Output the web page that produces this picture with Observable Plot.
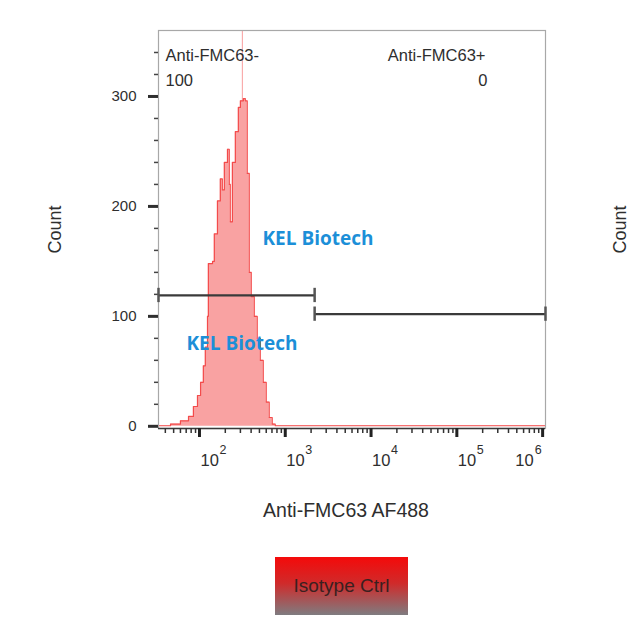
<!DOCTYPE html>
<html>
<head>
<meta charset="utf-8">
<script src="https://cdn.jsdelivr.net/npm/d3@7"></script>
<script src="https://cdn.jsdelivr.net/npm/@observablehq/plot@0.6"></script>
<style>
  html, body { margin: 0; padding: 0; background: #fff; }
  #wrap { position: relative; width: 633px; height: 634px; overflow: hidden; font-family: "Liberation Sans", Arial, sans-serif; }
  #chart { position: absolute; left: 0; top: 0; }
  #legend {
    position: absolute; left: 275px; top: 557px; width: 133px; height: 58px;
    background: linear-gradient(to bottom, #f40a0a 0%, #d02a2a 45%, #7f7c80 100%);
    display: flex; align-items: center; justify-content: center;
    color: #3a2020; font-size: 19px; font-family: "Liberation Sans", Arial, sans-serif;
  }
</style>
</head>
<body>
<div id="wrap">
  <div id="chart"></div>
  <div id="legend">Isotype Ctrl</div>
</div>
<script>
// ---- data ----
const histIntensity = [33.3, 46, 60, 74.5, 85, 94.8, 103, 111, 117, 124,
  127, 142, 149, 162, 175, 185, 195, 212, 223, 229,
  242, 262, 284, 300, 316, 325, 343, 361, 381, 402,
  436, 472, 512, 555, 601, 651, 706, 765, 1.08e6];
const histCount = [0.5, 2, 5, 9, 18, 28, 40, 55, 72, 100,
  148, 150, 175, 205, 225, 215, 240, 252, 220, 186,
  240, 268, 290, 296, 400, 298, 296, 230, 140, 118,
  100, 80, 60, 40, 22, 8, 2, 0.5, 0.5];

const gateNames = ["Anti-FMC63-", "Anti-FMC63+"];
const gatePercents = ["100", "0"];
const gateStart = [33.3, 2200];
const gateEnd = [2200, 1.08e6];
const gateLevel = [119, 102];

const xDomain = [33.3, 1.08e6];
const yDomain = [-2, 360];
const decadeTicks = [100, 1000, 10000, 100000, 1000000];
const decadeExponents = ["2", "3", "4", "5", "6"];
const yMajorTicks = [0, 100, 200, 300];
const yMinorTicks = [20, 40, 60, 80, 120, 140, 160, 180, 220, 240, 260, 280, 320, 340];
const xMinorTicks = [40, 50, 60, 70, 80, 90,
  200, 300, 400, 500, 600, 700, 800, 900,
  2000, 3000, 4000, 5000, 6000, 7000, 8000, 9000,
  20000, 30000, 40000, 50000, 60000, 70000, 80000, 90000,
  200000, 300000, 400000, 500000, 600000, 700000, 800000, 900000];
const xLabel = "Anti-FMC63 AF488";
const yLabel = "Count";
const watermark = "KEL Biotech";

// ---- tables ----
const hist = histIntensity.map((x, i) => ({x, count: histCount[i]}));
const histInFrame = hist.filter(d => d.count < yDomain[1]);
const gates = gateNames.map((name, i) => ({name, pct: gatePercents[i], x1: gateStart[i], x2: gateEnd[i], level: gateLevel[i]}));
const gateCaps = gates.flatMap(g => [{x: g.x1, level: g.level}, {x: g.x2, level: g.level}]);
const decades = decadeTicks.map((v, i) => ({v, exp: decadeExponents[i], last: i === decadeTicks.length - 1}));
const capHalf = 6.5;
const textColor = "#2e2e2e";
const font = "Liberation Sans, Arial, sans-serif";
const wmFont = "Open Sans, Liberation Sans, sans-serif";

const chart = Plot.plot({
  width: 633,
  height: 540,
  marginLeft: 158,
  marginRight: 88,
  marginTop: 30,
  marginBottom: 112,
  style: {fontFamily: font, background: "#fff", overflow: "visible"},
  x: {type: "log", domain: xDomain},
  y: {domain: yDomain},
  marks: [
    Plot.areaY(hist, {x: "x", y: "count", y1: 0, curve: "step-after", fill: "#f9a2a2", clip: true}),
    Plot.lineY(histInFrame, {x: "x", y: "count", curve: "step-after", stroke: "#f23c3c", strokeWidth: 1.2, strokeOpacity: 0.85, clip: true}),
    Plot.frame({stroke: "#a8a8a8", strokeWidth: 1.2}),
    Plot.ruleY([yDomain[0]], {stroke: "#3a3a3a", strokeWidth: 1.5}),
    // y axis
    Plot.axisY({ticks: yMajorTicks, tickSize: 10, tickPadding: 12, strokeWidth: 3, fontSize: 15, color: textColor, label: null}),
    Plot.axisY({ticks: yMinorTicks, tickSize: 4, strokeWidth: 1.5, tickFormat: () => "", color: "#444", label: null}),
    // x axis ticks
    Plot.axisX({ticks: decadeTicks, tickSize: 9, strokeWidth: 3, tickFormat: () => "", color: "#222", label: null}),
    Plot.axisX({ticks: xMinorTicks, tickSize: 5, strokeWidth: 1.5, tickFormat: () => "", color: "#333", label: null}),
    // x tick labels: base and exponent
    Plot.text(decades.filter(d => !d.last), {x: "v", text: () => "10", frameAnchor: "bottom", dy: 37, dx: 1, textAnchor: "start", fontSize: 16.5, fill: textColor}),
    Plot.text(decades.filter(d => !d.last), {x: "v", text: "exp", frameAnchor: "bottom", dy: 25, dx: 20, textAnchor: "start", fontSize: 12.5, fill: textColor}),
    Plot.text(decades.filter(d => d.last), {x: "v", text: () => "10", frameAnchor: "bottom", dy: 37, dx: -9, textAnchor: "end", fontSize: 16.5, fill: textColor}),
    Plot.text(decades.filter(d => d.last), {x: "v", text: "exp", frameAnchor: "bottom", dy: 25, dx: -1, textAnchor: "end", fontSize: 12.5, fill: textColor}),
    // gates
    Plot.ruleY(gates, {x1: "x1", x2: "x2", y: "level", stroke: "#3a3a3a", strokeWidth: 2.2}),
    Plot.ruleX(gateCaps, {x: "x", y1: d => d.level - capHalf, y2: d => d.level + capHalf, stroke: "#555", strokeWidth: 2.5}),
    // gate labels
    Plot.text(gates.slice(0, 1), {text: "name", frameAnchor: "top-left", dx: 7, dy: 19, textAnchor: "start", fontSize: 16.5, fill: textColor}),
    Plot.text(gates.slice(0, 1), {text: "pct", frameAnchor: "top-left", dx: 7, dy: 44, textAnchor: "start", fontSize: 16.5, fill: textColor}),
    Plot.text(gates.slice(1, 2), {text: "name", frameAnchor: "top-right", dx: -60, dy: 19, textAnchor: "end", fontSize: 16.5, fill: textColor}),
    Plot.text(gates.slice(1, 2), {text: "pct", frameAnchor: "top-right", dx: -58, dy: 44, textAnchor: "end", fontSize: 16.5, fill: textColor}),
    // watermarks
    Plot.text([watermark], {frameAnchor: "top-left", dx: 104, dy: 201, textAnchor: "start", fontSize: 19, fontWeight: "bold", fill: "#1c8fd8", fontFamily: wmFont}),
    Plot.text([watermark], {frameAnchor: "top-left", dx: 28, dy: 306, textAnchor: "start", fontSize: 19, fontWeight: "bold", fill: "#1c8fd8", fontFamily: wmFont}),
    // axis titles
    Plot.text([xLabel], {frameAnchor: "bottom", dx: -6, dy: 88, fontSize: 19.5, fill: textColor}),
    Plot.text([yLabel], {frameAnchor: "left", dx: -103, rotate: -90, textAnchor: "middle", fontSize: 18, fill: textColor}),
    Plot.text([yLabel], {frameAnchor: "right", dx: 75, rotate: -90, textAnchor: "middle", fontSize: 18, fill: textColor})
  ]
});
document.getElementById("chart").appendChild(chart);
</script>
</body>
</html>
